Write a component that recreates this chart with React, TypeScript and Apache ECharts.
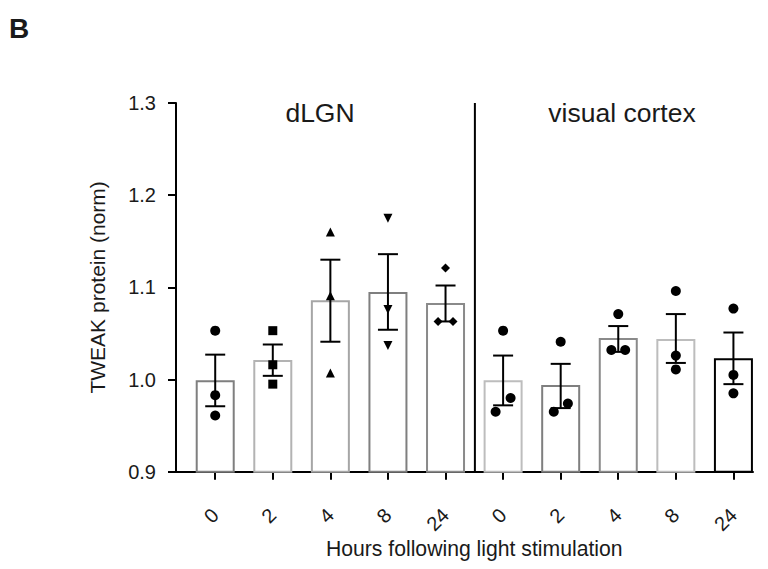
import { useEffect, useRef } from 'react';
import * as echarts from 'echarts';

// ---- data ----
const regionNames = ['dLGN', 'visual cortex'];
const hours = ['0', '2', '4', '8', '24'];
const categories = [...hours, ...hours];

const barMeans = [0.998, 1.02, 1.085, 1.094, 1.082, 0.998, 0.993, 1.044, 1.043, 1.022];
const semUpper = [1.027, 1.038, 1.13, 1.136, 1.102, 1.026, 1.017, 1.058, 1.071, 1.051];
const semLower = [0.971, 1.004, 1.041, 1.054, 1.063, 0.972, 0.969, 1.03, 1.018, 0.995];

const pointValues = [
  [1.053, 0.983, 0.961],
  [1.053, 1.016, 0.995],
  [1.16, 1.091, 1.007],
  [1.175, 1.076, 1.037],
  [1.121, 1.063, 1.063],
  [1.053, 0.98, 0.965],
  [1.041, 0.974, 0.965],
  [1.071, 1.032, 1.032],
  [1.096, 1.026, 1.011],
  [1.077, 1.005, 0.985],
];
const pointJitter = [
  [0, 0, 0],
  [0, 0, 0],
  [0, 0, 0],
  [0, 0, 0],
  [0, -0.13, 0.13],
  [0, 0.13, -0.13],
  [0, 0.125, -0.12],
  [0, -0.12, 0.12],
  [0, 0, 0],
  [0, 0, 0],
];
const pointSymbols = ['circle', 'rect', 'triangle', 'triangle', 'diamond', 'circle', 'circle', 'circle', 'circle', 'circle'];
const pointRotations = [0, 0, 0, 180, 0, 0, 0, 0, 0, 0];
const pointSizes = [10, 9, 9, 9, 9, 10, 10, 10, 10, 10];
const barBorderColors = ['#7f7f7f', '#b3b3b3', '#a6a6a6', '#7f7f7f', '#8a8a8a', '#bdbdbd', '#7f7f7f', '#8a8a8a', '#bdbdbd', '#000000'];

const yTicks = { min: 0.9, max: 1.3, interval: 0.1 };

// ---- layout ----
const FONT = '"Liberation Sans", Arial, Helvetica, sans-serif';
const TEXT = '#1a1a1a';
const X_MIN = -0.681;
const X_MAX = 9.34;
const DIVIDER = 4.51;
const BAR_W = 37;
const CAP_HALF = 10;

export default function App() {
  const ref = useRef<HTMLDivElement>(null);

  useEffect(() => {
    if (!ref.current) return;
    const chart = echarts.init(ref.current, undefined, { renderer: 'svg' });

    const scatterData: any[] = [];
    pointValues.forEach((vals, i) => {
      vals.forEach((v, k) => {
        scatterData.push({
          value: [i + pointJitter[i][k], v],
          symbol: pointSymbols[i],
          symbolRotate: pointRotations[i],
          symbolSize: pointSizes[i],
        });
      });
    });

    const option: any = {
      animation: false,
      backgroundColor: '#ffffff',
      textStyle: { fontFamily: FONT },
      grid: [
        { left: 176, right: 15, top: 103, bottom: 97.3, containLabel: false, outerBoundsMode: 'none' },
        { left: 186.4, right: 5.9, top: 103, bottom: 97.3, containLabel: false, outerBoundsMode: 'none' },
      ],
      xAxis: [
        {
          type: 'value',
          gridIndex: 0,
          min: X_MIN,
          max: X_MAX,
          axisLine: { show: true, onZero: false, lineStyle: { color: '#000', width: 2 } },
          axisTick: { show: false },
          axisLabel: { show: false },
          splitLine: { show: false },
        },
        {
          type: 'category',
          gridIndex: 1,
          data: categories,
          boundaryGap: true,
          axisLine: { show: false },
          axisTick: { show: true, alignWithLabel: true, length: 8, lineStyle: { color: '#000', width: 2 } },
          axisLabel: { rotate: 45, margin: 40, fontSize: 20, color: TEXT, fontFamily: FONT },
          name: 'Hours following light stimulation',
          nameLocation: 'middle',
          nameGap: 66,
          nameMoveOverlap: false,
          nameTextStyle: { fontSize: 21.2, color: TEXT, fontFamily: FONT },
        },
      ],
      yAxis: [
        {
          type: 'value',
          gridIndex: 0,
          min: yTicks.min,
          max: yTicks.max,
          interval: yTicks.interval,
          axisLine: { show: true, onZero: false, lineStyle: { color: '#000', width: 2 } },
          axisTick: { show: true, length: 8, lineStyle: { color: '#000', width: 2 } },
          axisLabel: {
            margin: 20,
            fontSize: 20,
            color: TEXT,
            fontFamily: FONT,
            formatter: (v: number) => v.toFixed(1),
          },
          splitLine: { show: false },
          name: 'TWEAK protein (norm)',
          nameLocation: 'middle',
          nameRotate: 90,
          nameGap: 68,
          nameMoveOverlap: false,
          nameTextStyle: { fontSize: 21, color: TEXT, fontFamily: FONT },
        },
        { type: 'value', gridIndex: 1, show: false, min: yTicks.min, max: yTicks.max },
      ],
      series: [
        {
          type: 'custom',
          xAxisIndex: 0,
          yAxisIndex: 0,
          data: barMeans.map((v, i) => [i, v]),
          renderItem: (params: any, api: any) => {
            const i = params.dataIndex;
            const top = api.coord([api.value(0), api.value(1)]);
            const base = api.coord([api.value(0), yTicks.min]);
            return {
              type: 'rect',
              shape: { x: top[0] - BAR_W / 2, y: top[1], width: BAR_W, height: base[1] - top[1] },
              style: { fill: '#ffffff', stroke: barBorderColors[i], lineWidth: 2 },
            };
          },
          z: 1,
        },
        {
          type: 'line',
          xAxisIndex: 0,
          yAxisIndex: 0,
          data: [
            [DIVIDER, yTicks.min],
            [DIVIDER, yTicks.max],
          ],
          symbol: 'none',
          lineStyle: { color: '#000', width: 2 },
          z: 2,
        },
        {
          type: 'custom',
          xAxisIndex: 0,
          yAxisIndex: 0,
          data: barMeans.map((_, i) => [i, semLower[i], semUpper[i]]),
          encode: { x: 0, y: [1, 2] },
          renderItem: (params: any, api: any) => {
            const x = api.value(0);
            const lo = api.coord([x, api.value(1)]);
            const hi = api.coord([x, api.value(2)]);
            const style = { stroke: '#000', lineWidth: 2 };
            return {
              type: 'group',
              children: [
                { type: 'line', shape: { x1: lo[0], y1: lo[1], x2: hi[0], y2: hi[1] }, style },
                { type: 'line', shape: { x1: hi[0] - CAP_HALF, y1: hi[1], x2: hi[0] + CAP_HALF, y2: hi[1] }, style },
                { type: 'line', shape: { x1: lo[0] - CAP_HALF, y1: lo[1], x2: lo[0] + CAP_HALF, y2: lo[1] }, style },
              ],
            };
          },
          z: 3,
        },
        {
          type: 'scatter',
          xAxisIndex: 0,
          yAxisIndex: 0,
          data: scatterData,
          itemStyle: { color: '#000', opacity: 1 },
          z: 4,
        },
      ],
      graphic: [
        {
          type: 'text',
          left: 9,
          top: 14,
          style: { text: 'B', fontSize: 28, fontWeight: 'bold', fill: '#1a1a1a', fontFamily: FONT },
        },
        {
          type: 'text',
          x: 320,
          y: 113,
          style: { text: regionNames[0], fontSize: 26.5, fill: TEXT, fontFamily: FONT, textAlign: 'center', textVerticalAlign: 'middle' },
        },
        {
          type: 'text',
          x: 622,
          y: 113,
          style: { text: regionNames[1], fontSize: 26.5, fill: TEXT, fontFamily: FONT, textAlign: 'center', textVerticalAlign: 'middle' },
        },
      ],
    };

    chart.setOption(option);
    return () => chart.dispose();
  }, []);

  return (
    <div
      ref={ref}
      style={{ position: 'fixed', left: 0, top: 0, width: 768, height: 569, background: '#fff' }}
    />
  );
}
